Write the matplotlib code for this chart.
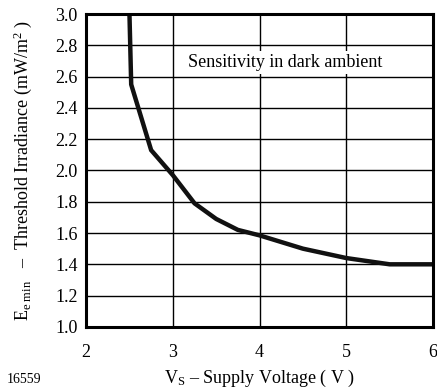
import numpy as np
import matplotlib.pyplot as plt

plt.rcParams['font.family'] = ['Liberation Serif', 'DejaVu Serif']
plt.rcParams['mathtext.fontset'] = 'custom'
plt.rcParams['mathtext.rm'] = 'Liberation Serif'
plt.rcParams['mathtext.it'] = 'Liberation Serif:italic'

# curve
vs = [2.5, 2.52, 2.75, 3.0, 3.25, 3.5, 3.75, 4.0, 4.5, 5.0, 5.5, 6.0]
ee_min = [3.0, 2.55, 2.13, 1.97, 1.79, 1.69, 1.62, 1.585, 1.50, 1.44, 1.40, 1.40]

xticks = [2, 3, 4, 5, 6]
yticks = [1.0, 1.2, 1.4, 1.6, 1.8, 2.0, 2.2, 2.4, 2.6, 2.8, 3.0]

fig = plt.figure(figsize=(4.37, 3.91), dpi=100)
ax = fig.add_axes([0.197, 0.164, 0.794, 0.800])

ax.plot(vs, ee_min, color='#111111', lw=3.2, solid_joinstyle='miter', zorder=3)

ax.set_xlim(2, 6)
ax.set_ylim(1.0, 3.0)
ax.set_xticks(xticks)
ax.set_yticks(yticks)
ax.set_yticklabels(['%.1f' % v for v in yticks])
ax.grid(True, color='black', lw=1.0)
ax.tick_params(length=0, labelsize=13)
ax.tick_params(axis='x', pad=12)
ax.tick_params(axis='y', pad=6)
for s in ax.spines.values():
    s.set_linewidth(2.2)
    s.set_zorder(4)

ax.text(4.29, 2.69, 'Sensitivity in dark ambient', ha='center', va='center',
        fontsize=13, zorder=2,
        bbox=dict(facecolor='white', edgecolor='none', pad=2))

ax.set_xlabel(r'V$_\mathregular{S}$ – Supply Voltage ( V )', fontsize=13, labelpad=5)
ax.set_ylabel(r'E$_\mathregular{e\ min}$   –  Threshold Irradiance (mW/m$^\mathregular{2}$ )',
              fontsize=13, labelpad=15)

fig.text(0.016, 0.02, '16559', fontsize=10)

fig.savefig('out.png', dpi=100)
